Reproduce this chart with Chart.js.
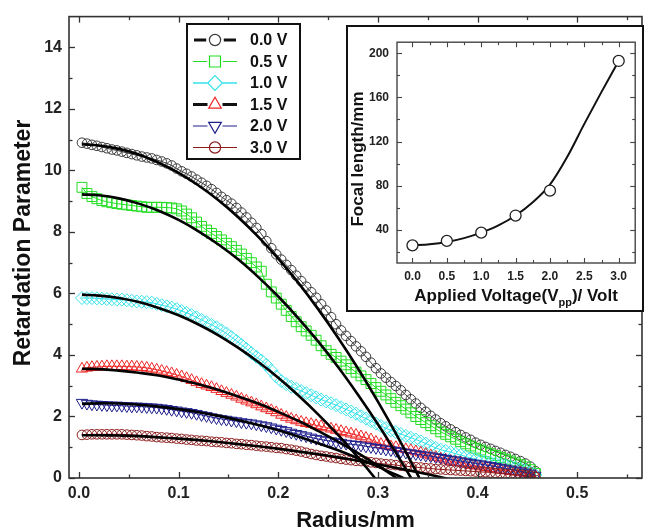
<!DOCTYPE html>
<html>
<head>
<meta charset="utf-8">
<script src="https://cdn.jsdelivr.net/npm/chart.js@4.4.0/dist/chart.umd.min.js"></script>
<style>
html, body { margin: 0; padding: 0; background: #fff; }
#wrap { position: relative; width: 650px; height: 532px; }
#inset { position: absolute; left: 346px; top: 25px; width: 298px; height: 287px;
         border: 2px solid #111; box-sizing: border-box; background: #fff; }
canvas { display: block; }
</style>
</head>
<body>
<div id="wrap">
  <canvas id="main" width="650" height="532"></canvas>
  <div id="inset"><canvas id="ins" width="294" height="283"></canvas></div>
</div>
<script>
// --- data ---
const radius = [
  0.003, 0.008, 0.013, 0.018, 0.023, 0.028, 0.033, 0.038, 0.043, 0.048,
  0.053, 0.058, 0.063, 0.068, 0.073, 0.078, 0.083, 0.088, 0.093, 0.098,
  0.103, 0.108, 0.113, 0.118, 0.123, 0.128, 0.133, 0.138, 0.143, 0.148,
  0.153, 0.158, 0.163, 0.168, 0.173, 0.178, 0.183, 0.188, 0.193, 0.198,
  0.203, 0.208, 0.213, 0.218, 0.223, 0.228, 0.233, 0.238, 0.243, 0.248,
  0.253, 0.258, 0.263, 0.268, 0.273, 0.278, 0.283, 0.288, 0.293, 0.298,
  0.303, 0.308, 0.313, 0.318, 0.323, 0.328, 0.333, 0.338, 0.343, 0.348,
  0.353, 0.358, 0.363, 0.368, 0.373, 0.378, 0.383, 0.388, 0.393, 0.398,
  0.403, 0.408, 0.413, 0.418, 0.423, 0.428, 0.433, 0.438, 0.443, 0.448,
  0.453, 0.458];

const ret00 = [
  10.9, 10.87, 10.83, 10.8, 10.76, 10.72, 10.68, 10.65, 10.61, 10.57,
  10.53, 10.49, 10.45, 10.42, 10.39, 10.34, 10.29, 10.23, 10.16, 10.06,
  9.97, 9.89, 9.8, 9.7, 9.6, 9.5, 9.39, 9.27, 9.14, 9.03,
  8.92, 8.78, 8.63, 8.47, 8.3, 8.13, 7.93, 7.7, 7.47, 7.27,
  7.1, 6.93, 6.76, 6.58, 6.4, 6.22, 6.04, 5.86, 5.65, 5.45,
  5.23, 5.0, 4.8, 4.62, 4.45, 4.28, 4.12, 3.94, 3.75, 3.57,
  3.4, 3.26, 3.12, 2.99, 2.85, 2.7, 2.56, 2.42, 2.28, 2.15,
  2.02, 1.9, 1.78, 1.68, 1.58, 1.49, 1.4, 1.32, 1.24, 1.15,
  1.08, 1.01, 0.95, 0.88, 0.82, 0.75, 0.69, 0.62, 0.55, 0.47,
  0.37, 0.22];
const ret05 = [
  9.45, 9.25, 9.15, 9.08, 9.02, 8.98, 8.95, 8.92, 8.9, 8.88,
  8.86, 8.84, 8.82, 8.8, 8.8, 8.8, 8.8, 8.79, 8.78, 8.75,
  8.68, 8.58, 8.46, 8.32, 8.18, 8.06, 7.95, 7.85, 7.74, 7.63,
  7.52, 7.4, 7.28, 7.14, 7.0, 6.86, 6.72, 6.3, 6.05, 5.85,
  5.65, 5.45, 5.25, 5.08, 4.92, 4.78, 4.64, 4.48, 4.3, 4.14,
  4.02, 3.92, 3.8, 3.68, 3.56, 3.44, 3.32, 3.2, 3.07, 2.94,
  2.82, 2.7, 2.58, 2.46, 2.35, 2.24, 2.12, 2.0, 1.9, 1.8,
  1.7, 1.6, 1.5, 1.42, 1.34, 1.26, 1.18, 1.11, 1.04, 0.97,
  0.91, 0.85, 0.79, 0.73, 0.67, 0.61, 0.55, 0.49, 0.43, 0.36,
  0.27, 0.15];
const ret10 = [
  5.85, 5.85, 5.85, 5.84, 5.83, 5.82, 5.81, 5.8, 5.8, 5.78,
  5.76, 5.74, 5.73, 5.72, 5.7, 5.66, 5.62, 5.58, 5.54, 5.49,
  5.43, 5.37, 5.3, 5.22, 5.14, 5.06, 4.98, 4.9, 4.8, 4.7,
  4.58, 4.46, 4.33, 4.2, 4.06, 3.94, 3.82, 3.68, 3.5, 3.3,
  3.15, 3.05, 2.97, 2.9, 2.83, 2.76, 2.69, 2.62, 2.55, 2.49,
  2.43, 2.37, 2.3, 2.23, 2.16, 2.09, 2.01, 1.93, 1.85, 1.77,
  1.69, 1.62, 1.55, 1.49, 1.43, 1.37, 1.31, 1.25, 1.19, 1.12,
  1.05, 0.98, 0.92, 0.88, 0.84, 0.79, 0.75, 0.7, 0.65, 0.61,
  0.57, 0.53, 0.5, 0.47, 0.44, 0.41, 0.38, 0.34, 0.3, 0.25,
  0.18, 0.1];
const ret15 = [
  3.55, 3.58, 3.6, 3.61, 3.62, 3.63, 3.63, 3.63, 3.63, 3.62,
  3.62, 3.61, 3.6, 3.58, 3.55, 3.52, 3.48, 3.44, 3.4, 3.35,
  3.3, 3.24, 3.18, 3.11, 3.05, 3.0, 2.95, 2.89, 2.82, 2.76,
  2.7, 2.64, 2.57, 2.51, 2.45, 2.39, 2.32, 2.26, 2.2, 2.13,
  2.05, 1.98, 1.92, 1.87, 1.82, 1.78, 1.75, 1.71, 1.68, 1.64,
  1.6, 1.56, 1.52, 1.48, 1.44, 1.4, 1.35, 1.3, 1.25, 1.17,
  1.1, 1.06, 1.02, 1.0, 0.97, 0.93, 0.9, 0.86, 0.82, 0.78,
  0.73, 0.68, 0.63, 0.59, 0.55, 0.52, 0.5, 0.46, 0.42, 0.4,
  0.37, 0.35, 0.32, 0.3, 0.27, 0.25, 0.22, 0.2, 0.18, 0.15,
  0.12, 0.07];
const ret20 = [
  2.45, 2.42, 2.4, 2.39, 2.38, 2.37, 2.36, 2.36, 2.35, 2.34,
  2.33, 2.33, 2.32, 2.31, 2.3, 2.29, 2.27, 2.25, 2.22, 2.2,
  2.17, 2.15, 2.12, 2.09, 2.05, 2.02, 1.98, 1.95, 1.92, 1.9,
  1.87, 1.85, 1.82, 1.8, 1.78, 1.75, 1.72, 1.69, 1.65, 1.61,
  1.57, 1.53, 1.48, 1.44, 1.4, 1.36, 1.32, 1.28, 1.25, 1.22,
  1.2, 1.17, 1.15, 1.12, 1.1, 1.08, 1.06, 1.03, 1.01, 0.98,
  0.96, 0.93, 0.91, 0.88, 0.86, 0.83, 0.81, 0.78, 0.76, 0.73,
  0.71, 0.68, 0.66, 0.63, 0.6, 0.58, 0.55, 0.52, 0.5, 0.47,
  0.45, 0.42, 0.4, 0.37, 0.34, 0.31, 0.28, 0.25, 0.22, 0.18,
  0.15, 0.08];
const ret30 = [
  1.4, 1.41, 1.42, 1.42, 1.42, 1.42, 1.42, 1.42, 1.42, 1.41,
  1.4, 1.39, 1.38, 1.36, 1.35, 1.33, 1.32, 1.31, 1.3, 1.28,
  1.27, 1.25, 1.24, 1.22, 1.21, 1.2, 1.18, 1.17, 1.16, 1.14,
  1.13, 1.11, 1.1, 1.08, 1.07, 1.05, 1.03, 1.02, 1.0, 0.98,
  0.97, 0.94, 0.92, 0.89, 0.86, 0.82, 0.78, 0.75, 0.72, 0.7,
  0.67, 0.65, 0.62, 0.6, 0.58, 0.56, 0.55, 0.53, 0.51, 0.49,
  0.47, 0.45, 0.44, 0.42, 0.4, 0.38, 0.37, 0.35, 0.34, 0.32,
  0.31, 0.29, 0.28, 0.27, 0.26, 0.25, 0.24, 0.23, 0.22, 0.21,
  0.2, 0.19, 0.18, 0.16, 0.15, 0.13, 0.12, 0.11, 0.1, 0.08,
  0.07, 0.04];

// fitted curves (black lines)
const fitX = [0.003, 0.02, 0.04, 0.06, 0.08, 0.10, 0.12, 0.14, 0.16, 0.18,
  0.20, 0.22, 0.24, 0.26, 0.28, 0.30, 0.32, 0.34, 0.36, 0.38];
const fit00 = [10.85, 10.81, 10.7, 10.52, 10.25, 9.92, 9.51, 9.03, 8.47, 7.84,
  7.13, 6.35, 5.49, 4.56, 3.56, 2.48, 1.33, 0.1, -1.2];
const fit05 = [9.22, 9.19, 9.09, 8.92, 8.69, 8.39, 8.02, 7.59, 7.1, 6.53,
  5.9, 5.2, 4.44, 3.61, 2.71, 1.75, 0.72, -0.37];
const fit10 = [5.96, 5.93, 5.85, 5.72, 5.53, 5.29, 4.99, 4.64, 4.23, 3.77,
  3.26, 2.69, 2.07, 1.4, 0.67, -0.12];
const fit15 = [3.55, 3.54, 3.49, 3.42, 3.33, 3.2, 3.05, 2.86, 2.65, 2.42,
  2.15, 1.86, 1.53, 1.18, 0.81, 0.4, -0.03];
const fit20 = [2.41, 2.43, 2.42, 2.38, 2.32, 2.24, 2.14, 2.02, 1.88, 1.72,
  1.55, 1.35, 1.13, 0.9, 0.64, 0.37, 0.08, -0.22];
const fit30 = [1.39, 1.39, 1.38, 1.36, 1.32, 1.28, 1.23, 1.17, 1.1, 1.03,
  0.95, 0.86, 0.77, 0.67, 0.56, 0.44, 0.32, 0.19, 0.05, -0.1];

const legendLabels = ['0.0 V', '0.5 V', '1.0 V', '1.5 V', '2.0 V', '3.0 V'];
const xTicks = [0, 0.1, 0.2, 0.3, 0.4, 0.5];
const xMinor = [0.05, 0.15, 0.25, 0.35, 0.45, 0.55];
const yTicks = [0, 2, 4, 6, 8, 10, 12, 14];
const yMinor = [1, 3, 5, 7, 9, 11, 13];

// inset: focal length vs voltage
const volt = [0.0, 0.5, 1.0, 1.5, 2.0, 3.0];
const focal = [26, 30, 37.5, 53, 75.5, 193];
const fitVolt = [0, 0.25, 0.5, 0.75, 1.0, 1.25, 1.5, 1.75, 2.0, 2.25, 2.5, 2.75, 3.0];
const focalFit = [26, 27, 29, 32.5, 37.5, 44, 53, 65, 81, 106, 136, 165, 193];
const voltTicks = [0, 0.5, 1.0, 1.5, 2.0, 2.5, 3.0];
const voltMinor = [0.25, 0.75, 1.25, 1.75, 2.25, 2.75];
const focalTicks = [40, 80, 120, 160, 200];
const focalMinor = [20, 60, 100, 140, 180];

const FONT = '"Liberation Sans", Arial, sans-serif';

const seriesStyle = [
  { pt: 'circle',   color: '#3a3a3a', r: 4.8, rot: 0,   lc: '#111',    lw: 3,   split: true },
  { pt: 'rect',     color: '#22dd22', r: 7,   rot: 0,   lc: '#22dd22', lw: 1 },
  { pt: 'rectRot',  color: '#35e2ea', r: 6.5, rot: 0,   lc: '#35e2ea', lw: 1.5 },
  { pt: 'triangle', color: '#ee2626', r: 6.5, rot: 0,   lc: '#111',    lw: 3 },
  { pt: 'triangle', color: '#1e1e8c', r: 6.5, rot: 180, lc: '#1e1e8c', lw: 1 },
  { pt: 'circle',   color: '#8c1c1c', r: 4.8, rot: 0,   lc: '#8c1c1c', lw: 1, through: true }
];
const seriesData = [ret00, ret05, ret10, ret15, ret20, ret30];
const fitData = [fit00, fit05, fit10, fit15, fit20, fit30];

function pts(xs, ys) {
  const out = [];
  ys.forEach((v, i) => out.push({ x: xs[i], y: v }));
  return out;
}

// frame + inward ticks on all four sides
const boxTicks = {
  id: 'boxTicks',
  afterDraw(chart, args, o) {
    const { ctx, chartArea: a, scales: { x, y } } = chart;
    ctx.save();
    ctx.strokeStyle = o.color;
    ctx.lineWidth = o.width;
    ctx.strokeRect(a.left, a.top, a.right - a.left, a.bottom - a.top);
    const seg = (x1, y1, x2, y2) => { ctx.beginPath(); ctx.moveTo(x1, y1); ctx.lineTo(x2, y2); ctx.stroke(); };
    const doX = (vals, len) => vals.forEach(v => {
      const p = Math.round(x.getPixelForValue(v)) + 0.5;
      seg(p, a.bottom, p, a.bottom - len);
      seg(p, a.top, p, a.top + len);
    });
    const doY = (vals, len) => vals.forEach(v => {
      const p = Math.round(y.getPixelForValue(v)) + 0.5;
      seg(a.left, p, a.left + len, p);
      seg(a.right, p, a.right - len, p);
    });
    ctx.lineWidth = o.tickWidth;
    doX(o.xMajor, o.major); doX(o.xMinor, o.minor);
    doY(o.yMajor, o.major); doY(o.yMinor, o.minor);
    ctx.restore();
  }
};

// legend box and axis titles of the main chart
const mainDecor = {
  id: 'mainDecor',
  afterDraw(chart, args, o) {
    const ctx = chart.ctx;
    const a = chart.chartArea;
    ctx.save();
    ctx.fillStyle = '#fff';
    ctx.fillRect(o.left, o.top, o.width, o.height);
    ctx.lineWidth = 2;
    ctx.strokeStyle = '#111';
    ctx.strokeRect(o.left, o.top, o.width, o.height);
    legendLabels.forEach((lab, i) => {
      const s = seriesStyle[i];
      const cy = o.top + o.first + i * o.step;
      const mx = o.left + 28;
      ctx.strokeStyle = s.lc;
      ctx.lineWidth = s.lw;
      ctx.beginPath();
      if (s.through) {
        ctx.moveTo(o.left + 6, cy); ctx.lineTo(o.left + 50, cy);
      } else if (s.split) {
        ctx.moveTo(o.left + 7, cy); ctx.lineTo(mx - s.r - 4, cy);
        ctx.moveTo(mx + s.r + 4, cy); ctx.lineTo(o.left + 49, cy);
      } else {
        ctx.moveTo(o.left + 6, cy); ctx.lineTo(mx - s.r - 1, cy);
        ctx.moveTo(mx + s.r + 1, cy); ctx.lineTo(o.left + 50, cy);
      }
      ctx.stroke();
      ctx.fillStyle = s.through ? 'rgba(255,255,255,0)' : '#fff';
      ctx.strokeStyle = s.color;
      ctx.lineWidth = 1.2;
      Chart.helpers.drawPoint(ctx, { pointStyle: s.pt, radius: s.r + 0.8, rotation: s.rot, borderWidth: 1.2 }, mx, cy);
      ctx.fillStyle = '#111';
      ctx.font = 'bold 16px ' + FONT;
      ctx.textAlign = 'left';
      ctx.textBaseline = 'middle';
      ctx.fillText(lab, o.left + 63, cy + 1);
    });
    ctx.fillStyle = '#111';
    ctx.font = 'bold 22px ' + FONT;
    ctx.textAlign = 'center';
    ctx.textBaseline = 'middle';
    ctx.fillText('Radius/mm', (a.left + a.right) / 2, 521);
    ctx.font = 'bold 23px ' + FONT;
    ctx.translate(24, 243);
    ctx.rotate(-Math.PI / 2);
    ctx.fillText('Retardation Parameter', 0, 0);
    ctx.restore();
  }
};

const datasets = [];
seriesData.forEach((ys, i) => {
  const s = seriesStyle[i];
  datasets.push({
    label: legendLabels[i],
    data: pts(radius, ys),
    showLine: true,
    borderColor: s.color,
    borderWidth: 1,
    pointStyle: s.pt,
    pointRadius: s.r,
    pointRotation: s.rot,
    pointBorderColor: s.color,
    pointBackgroundColor: 'rgba(255,255,255,0)',
    pointBorderWidth: 1,
    order: 6 - i
  });
});
fitData.forEach((ys, i) => {
  datasets.push({
    label: 'fit ' + legendLabels[i],
    data: pts(fitX, ys),
    showLine: true,
    borderColor: '#000',
    borderWidth: 2.6,
    pointRadius: 0,
    tension: 0.4,
    order: 0
  });
});

new Chart(document.getElementById('main'), {
  type: 'scatter',
  data: { datasets: datasets },
  options: {
    responsive: false,
    animation: false,
    layout: { padding: { top: 13, right: 1, left: 0, bottom: 0 } },
    plugins: {
      legend: { display: false },
      tooltip: { enabled: false },
      boxTicks: { color: '#333', width: 1.6, tickWidth: 1.3, major: 6, minor: 3.5,
        xMajor: xTicks, xMinor: xMinor, yMajor: yTicks, yMinor: yMinor },
      mainDecor: { left: 187, top: 24, width: 113, height: 135, first: 16, step: 21.5 }
    },
    scales: {
      x: {
        type: 'linear', min: -0.01, max: 0.565,
        grid: { display: false, drawTicks: false }, border: { display: false },
        afterFit: s => { s.height = 54; },
        afterBuildTicks: s => { s.ticks = xTicks.map(v => ({ value: v })); },
        ticks: { padding: 6, color: '#222', font: { family: FONT, size: 16, weight: 'bold' },
          maxRotation: 0, callback: v => v.toFixed(1) }
      },
      y: {
        type: 'linear', min: 0, max: 15,
        grid: { display: false, drawTicks: false }, border: { display: false },
        afterFit: s => { s.width = 69; },
        afterBuildTicks: s => { s.ticks = yTicks.map(v => ({ value: v })); },
        ticks: { padding: 7, color: '#222', font: { family: FONT, size: 16, weight: 'bold' },
          callback: v => String(v) }
      }
    }
  },
  plugins: [boxTicks, mainDecor]
});

// inset axis titles
const insetTitles = {
  id: 'insetTitles',
  afterDraw(chart) {
    const ctx = chart.ctx;
    const a = chart.chartArea;
    ctx.save();
    ctx.fillStyle = '#111';
    ctx.textBaseline = 'alphabetic';
    const big = 'bold 17px ' + FONT, small = 'bold 11px ' + FONT;
    const p1 = 'Applied Voltage(V', p2 = 'pp', p3 = ')/ Volt';
    ctx.font = big; const w1 = ctx.measureText(p1).width, w3 = ctx.measureText(p3).width;
    ctx.font = small; const w2 = ctx.measureText(p2).width;
    let x0 = (a.left + a.right) / 2 - (w1 + w2 + w3) / 2;
    const by = 274;
    ctx.textAlign = 'left';
    ctx.font = big; ctx.fillText(p1, x0, by);
    ctx.font = small; ctx.fillText(p2, x0 + w1, by + 5);
    ctx.font = big; ctx.fillText(p3, x0 + w1 + w2, by);
    ctx.translate(10, 132);
    ctx.rotate(-Math.PI / 2);
    ctx.font = 'bold 17px ' + FONT;
    ctx.textAlign = 'center';
    ctx.textBaseline = 'middle';
    ctx.fillText('Focal length/mm', 0, 0);
    ctx.restore();
  }
};

new Chart(document.getElementById('ins'), {
  type: 'scatter',
  data: {
    datasets: [
      { label: 'focal', data: pts(volt, focal), showLine: false,
        pointStyle: 'circle', pointRadius: 5.5, pointBorderColor: '#222',
        pointBackgroundColor: '#fff', pointBorderWidth: 1.3, order: 0 },
      { label: 'fit', data: pts(fitVolt, focalFit), showLine: true,
        borderColor: '#111', borderWidth: 2, pointRadius: 0,
        tension: 0.4, cubicInterpolationMode: 'monotone', order: 1 }
    ]
  },
  options: {
    responsive: false,
    animation: false,
    layout: { padding: { top: 5, right: 6, left: 0, bottom: 0 } },
    plugins: {
      legend: { display: false },
      tooltip: { enabled: false },
      boxTicks: { color: '#444', width: 1.4, tickWidth: 1.1, major: 5, minor: 3,
        xMajor: voltTicks, xMinor: voltMinor, yMajor: focalTicks, yMinor: focalMinor }
    },
    scales: {
      x: {
        type: 'linear', min: -0.225, max: 3.24,
        grid: { display: false, drawTicks: false }, border: { display: false },
        afterFit: s => { s.height = 47; },
        afterBuildTicks: s => { s.ticks = voltTicks.map(v => ({ value: v })); },
        ticks: { padding: 6, color: '#222', font: { family: FONT, size: 12, weight: 'bold' },
          maxRotation: 0, callback: v => v.toFixed(1) }
      },
      y: {
        type: 'linear', min: 10, max: 210,
        grid: { display: false, drawTicks: false }, border: { display: false },
        afterFit: s => { s.width = 49; },
        afterBuildTicks: s => { s.ticks = focalTicks.map(v => ({ value: v })); },
        ticks: { padding: 8, color: '#222', font: { family: FONT, size: 12, weight: 'bold' },
          callback: v => String(v) }
      }
    }
  },
  plugins: [boxTicks, insetTitles]
});
</script>
</body>
</html>
